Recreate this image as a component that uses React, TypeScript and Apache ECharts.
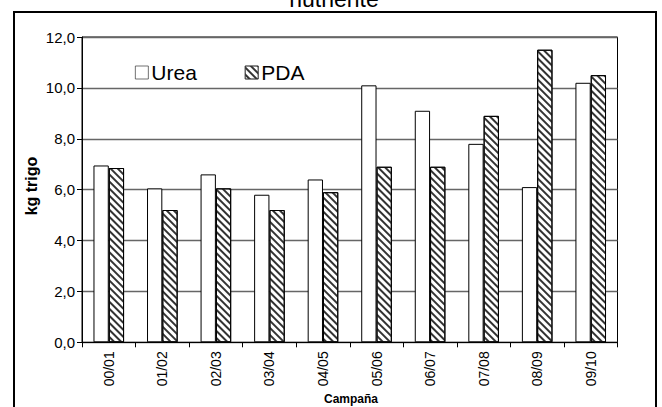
import React, { useEffect, useRef } from "react";
import * as echarts from "echarts";

const categories = ["00/01", "01/02", "02/03", "03/04", "04/05", "05/06", "06/07", "07/08", "08/09", "09/10"];
const ureaValues = [6.95, 6.05, 6.6, 5.8, 6.4, 10.1, 9.1, 7.8, 6.1, 10.2];
const pdaValues = [6.85, 5.2, 6.05, 5.2, 5.9, 6.9, 6.9, 8.9, 11.5, 10.5];
const seriesNames = ["Urea", "PDA"];
const yTicks = { min: 0, max: 12, interval: 2 };
const titleText = "nutriente";
const xName = "Campaña";
const yName = "kg trigo";

const FONT = "'Liberation Sans', Arial, sans-serif";

export default function App() {
  const ref = useRef<HTMLDivElement>(null);
  useEffect(() => {
    if (!ref.current) return;
    const chart = echarts.init(ref.current, undefined, { renderer: "svg" });
    const hatch = {
      symbol: "rect",
      symbolSize: 1,
      dashArrayX: [[1, 0]],
      dashArrayY: [1.3, 2.4],
      rotation: Math.PI / 4,
      color: "#333",
      backgroundColor: "#fff",
    };
    chart.setOption({
      animation: false,
      backgroundColor: "#fff",
      textStyle: { fontFamily: FONT },
      grid: { left: 82, right: 44.5, top: 37, bottom: 64.7, show: true, borderColor: "#000", borderWidth: 1, backgroundColor: "transparent" },
      legend: {
        left: 130,
        top: 57,
        itemWidth: 13,
        itemHeight: 13,
        itemGap: 48,
        icon: "rect",
        itemStyle: { borderWidth: 0.7, borderColor: "#333" },
        textStyle: { fontSize: 21, color: "#000", fontFamily: FONT, padding: [0, 0, 0, -2] },
        data: seriesNames,
      },
      xAxis: {
        type: "category",
        data: categories,
        axisLine: { lineStyle: { color: "#000", width: 1 } },
        axisTick: { show: true, alignWithLabel: false, length: 5, lineStyle: { color: "#000" } },
        axisLabel: { rotate: 90, fontSize: 14, color: "#000", margin: 9, fontFamily: FONT },
      },
      yAxis: {
        type: "value",
        min: yTicks.min,
        max: yTicks.max,
        interval: yTicks.interval,
        axisLine: { show: true, lineStyle: { color: "#000", width: 1 } },
        axisTick: { show: true, length: 5, lineStyle: { color: "#000" } },
        axisLabel: {
          fontSize: 15,
          color: "#000",
          margin: 7,
          fontFamily: FONT,
          formatter: (v: number) => v.toFixed(1).replace(".", ","),
        },
        splitLine: { show: true, lineStyle: { color: "#666", width: 1.3 } },
      },
      series: [
        {
          name: seriesNames[0],
          type: "bar",
          data: ureaValues,
          barWidth: 15.3,
          barGap: "0%",
          itemStyle: { color: "#fff", borderColor: "#000", borderWidth: 1 },
        },
        {
          name: seriesNames[1],
          type: "bar",
          data: pdaValues,
          barWidth: 15.3,
          barGap: "0%",
          itemStyle: { color: "#fff", borderColor: "#000", borderWidth: 1, decal: hatch },
        },
      ],
      graphic: [
        {
          type: "rect",
          shape: { x: 14, y: 12, width: 642, height: 420 },
          style: { fill: "none", stroke: "#000", lineWidth: 2 },
          silent: true,
          z: 100,
        },
        {
          type: "text",
          x: 334,
          y: 10,
          style: { text: titleText, font: `23px ${FONT}`, fill: "#000", align: "center", verticalAlign: "bottom" },
        },
        {
          type: "text",
          x: 351,
          y: 399,
          style: { text: xName, font: `bold 12px ${FONT}`, fill: "#000", align: "center", verticalAlign: "middle" },
        },
        {
          type: "text",
          x: 31,
          y: 186,
          rotation: Math.PI / 2,
          style: { text: yName, font: `bold 16px ${FONT}`, fill: "#000", align: "center", verticalAlign: "middle" },
        },
      ],
    });
    return () => chart.dispose();
  }, []);
  return <div ref={ref} style={{ position: "fixed", left: 0, top: 0, width: 662, height: 407 }} />;
}
